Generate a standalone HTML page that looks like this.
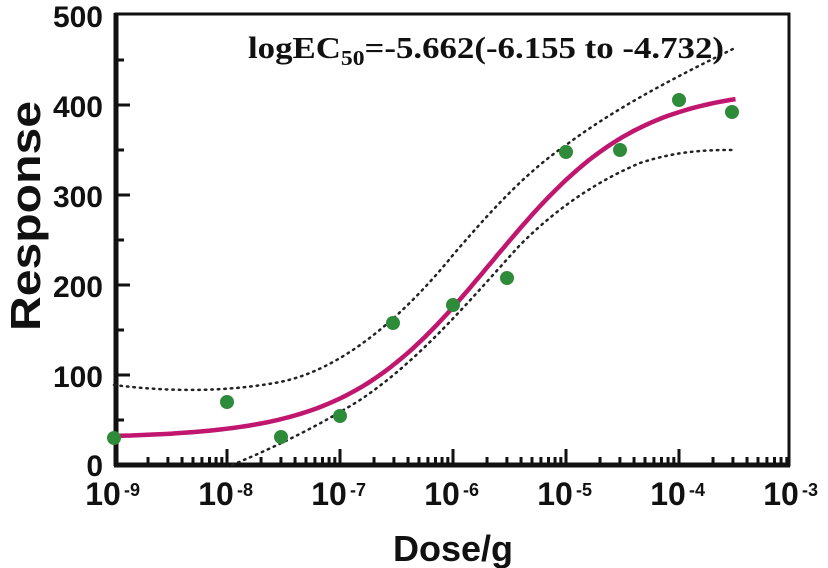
<!DOCTYPE html>
<html><head><meta charset="utf-8"><style>
html,body{margin:0;padding:0;background:#fff;width:828px;height:568px;overflow:hidden}
svg{display:block}
.t{font-family:"Liberation Sans",Arial,sans-serif;font-weight:bold;fill:#111}
</style></head><body>
<svg id="s" width="828" height="568" viewBox="0 0 828 568" xmlns="http://www.w3.org/2000/svg">
<rect x="116" y="14" width="673" height="451" fill="none" stroke="#111" stroke-width="3"/>
<line x1="116" y1="13" x2="116" y2="466" stroke="#111" stroke-width="5"/>
<line x1="114" y1="465" x2="790" y2="465" stroke="#111" stroke-width="5"/>
<g id="ticks" stroke="#111" stroke-width="3"></g>
<path id="up" fill="none" stroke="#222" stroke-width="2.5" stroke-dasharray="1.5 5" stroke-linecap="round"
 d="M114,385 C170,392 227,392 280,382 C340,370 400,320 453,255 C500,200 530,170 566,145 C620,105 680,75 735,48"/>
<path id="lo" fill="none" stroke="#222" stroke-width="2.5" stroke-dasharray="1.5 5" stroke-linecap="round"
 d="M232,465 C280,445 320,425 360,400 C420,360 470,300 520,245 C560,205 600,180 640,163 C680,150 710,150 735,150"/>
<path id="fit" fill="none" stroke="#c0166e" stroke-width="4.5"/>
<g fill="#2e8b3a" id="pts"></g>
<text class="t" x="103" y="27" text-anchor="end" font-size="30">500</text>
<text class="t" x="103" y="117" text-anchor="end" font-size="30">400</text>
<text class="t" x="103" y="207" text-anchor="end" font-size="30">300</text>
<text class="t" x="103" y="297" text-anchor="end" font-size="30">200</text>
<text class="t" x="103" y="387" text-anchor="end" font-size="30">100</text>
<text class="t" x="103" y="476" text-anchor="end" font-size="30">0</text>
<g id="xl"></g>
<text class="t" x="453" y="561" text-anchor="middle" font-size="36">Dose/g</text>
<text class="t" transform="translate(40,216) rotate(-90)" text-anchor="middle" font-size="42" textLength="230" lengthAdjust="spacingAndGlyphs">Response</text>
<text x="248" y="58" font-family="'Liberation Serif',serif" font-weight="bold" font-size="31" fill="#111" textLength="476" lengthAdjust="spacingAndGlyphs">logEC<tspan font-size="21" dy="7">50</tspan><tspan dy="-7">=-5.662(-6.155 to -4.732)</tspan></text>
</svg>
<script>
var NS="http://www.w3.org/2000/svg";
function X(l){return 114+(l+9)*113;}
function Y(v){return 465-v*0.9;}
function el(tag,a,p){var e=document.createElementNS(NS,tag);for(var k in a)e.setAttribute(k,a[k]);document.getElementById(p).appendChild(e);return e;}
var d="";for(var l=-9;l<=-3.5;l+=0.05){var v=30+390/(1+Math.pow(10,(-5.662-l)*0.67));d+=(d?"L":"M")+X(l).toFixed(1)+","+Y(v).toFixed(1);}
document.getElementById("fit").setAttribute("d",d);
for(var v=50;v<500;v+=50){var maj=v%100==0;el("line",{x1:116,y1:Y(v),x2:maj?130:124,y2:Y(v)},"ticks");}
for(var e=-9;e<-3;e++){for(var m=1;m<10;m++){var x=X(e+Math.log10(m));if(m==1&&e==-9)continue;el("line",{x1:x,y1:465,x2:x,y2:m==1?449:457},"ticks");}}
for(var e=-9;e<=-3;e++){var t=el("text",{x:X(e)-11,y:505,"text-anchor":"middle","font-size":"32",class:"t"},"xl");t.textContent="10";var s=el("text",{x:X(e)+10,y:496,"font-size":"18",class:"t"},"xl");s.textContent=""+e;}
var P=[[114,438],[227,402],[281,437],[340,416],[393,323],[453,305],[507,278],[566,152],[620,150],[679,100],[732,112]];
P.forEach(function(p){el("circle",{cx:p[0],cy:p[1],r:7},"pts");});
</script>
</body></html>
